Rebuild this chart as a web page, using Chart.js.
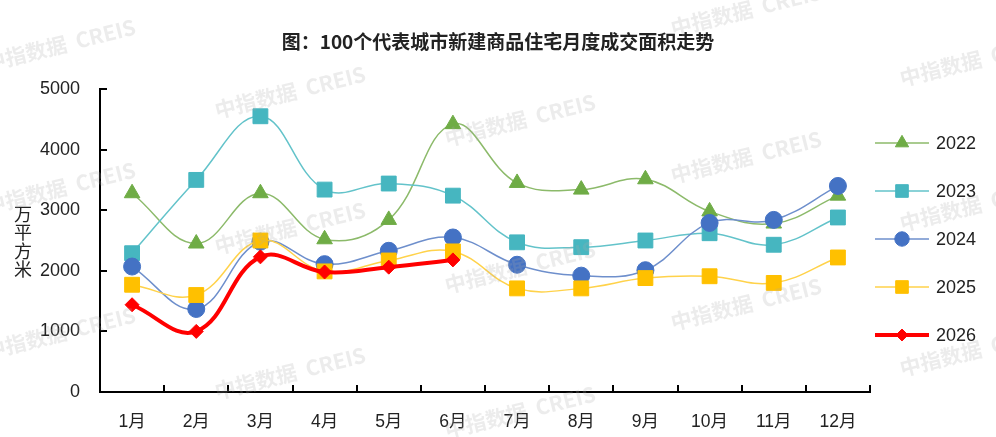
<!doctype html>
<html><head><meta charset="utf-8">
<title>100个代表城市新建商品住宅月度成交面积走势</title>
<script src="https://cdn.jsdelivr.net/npm/chart.js@4/dist/chart.umd.min.js"></script>
<style>
  html, body { margin: 0; padding: 0; background: #fff; }
  #wrap { width: 996px; height: 437px; position: relative; }
</style>
</head><body>
<div id="wrap"><canvas id="c"></canvas></div>
<script>
// data (万平方米)
const months = ['1月','2月','3月','4月','5月','6月','7月','8月','9月','10月','11月','12月'];
const yTicks = [0, 1000, 2000, 3000, 4000, 5000];
const v2022 = [3280, 2450, 3280, 2520, 2840, 4420, 3450, 3340, 3510, 2980, 2780, 3240];
const v2023 = [2290, 3500, 4550, 3340, 3440, 3240, 2470, 2390, 2500, 2620, 2430, 2880];
const v2024 = [2070, 1370, 2480, 2110, 2330, 2550, 2100, 1920, 2010, 2790, 2840, 3400];
const v2025 = [1770, 1600, 2500, 1990, 2170, 2320, 1710, 1710, 1880, 1910, 1800, 2220];
const v2026 = [1440, 1000, 2230, 1980, 2060, 2180];

const TITLE = '图：100个代表城市新建商品住宅月度成交面积走势';
const FONT = "'Liberation Sans', Arial, 'Noto Sans CJK SC', sans-serif";
const CJK = "'Noto Sans CJK SC', 'Liberation Sans', sans-serif";

function series(label, data, line, fill, style, r, width, order) {
  return {
    label, data, order,
    borderColor: line, borderWidth: width,
    pointStyle: style, pointRadius: r, pointHoverRadius: r,
    pointBackgroundColor: fill, pointBorderColor: fill, pointBorderWidth: 1,
    tension: 0.4, fill: false
  };
}

const datasets = [
  series('2022', v2022, '#8cba6a', '#6fac46', 'triangle', 9, 1.5, 4),
  series('2023', v2023, '#63c3ca', '#46b6c0', 'rect', 10.5, 1.5, 3),
  series('2024', v2024, '#6e8fcc', '#4472c4', 'circle', 8.5, 1.5, 2),
  series('2025', v2025, '#ffd24a', '#ffc000', 'rect', 10.5, 1.5, 1),
  series('2026', v2026, '#ff0000', '#ff0000', 'rectRot', 7, 4, 0)
];

// title centred on the whole canvas
const topTitle = {
  id: 'topTitle',
  afterDraw(chart) {
    const ctx = chart.ctx;
    ctx.save();
    ctx.fillStyle = '#222';
    ctx.font = 'bold 19px ' + CJK;
    ctx.textAlign = 'center';
    ctx.textBaseline = 'middle';
    ctx.fillText(TITLE, chart.width / 2, 42);
    ctx.restore();
  }
};

// inward tick marks on both axes
const innerTicks = {
  id: 'innerTicks',
  afterDraw(chart) {
    const { ctx, chartArea: a, scales: { x, y } } = chart;
    ctx.save();
    ctx.strokeStyle = '#000';
    ctx.lineWidth = 2;
    ctx.beginPath();
    yTicks.forEach(t => {
      const py = Math.round(y.getPixelForValue(t));
      ctx.moveTo(a.left, py); ctx.lineTo(a.left + 7, py);
    });
    const step = x.getPixelForValue(1) - x.getPixelForValue(0);
    for (let i = 0; i < months.length; i++) {
      const px = Math.round(x.getPixelForValue(i) + step / 2);
      ctx.moveTo(px, a.bottom); ctx.lineTo(px, a.bottom - 7);
    }
    ctx.stroke();
    ctx.restore();
  }
};

// vertical stacked y-axis unit
const yUnit = {
  id: 'yUnit',
  afterDraw(chart) {
    const ctx = chart.ctx;
    ctx.save();
    ctx.fillStyle = '#222';
    ctx.font = '18px ' + CJK;
    ctx.textAlign = 'center';
    ctx.textBaseline = 'middle';
    ['万','平','方','米'].forEach((ch, i) => ctx.fillText(ch, 23, 214 + i * 18.5));
    ctx.restore();
  }
};

// legend on the right: line sample + marker + label
const sideLegend = {
  id: 'sideLegend',
  afterDraw(chart) {
    const ctx = chart.ctx;
    const rows = [143, 191, 239, 287, 335];
    ctx.save();
    datasets.forEach((ds, i) => {
      const yy = rows[i];
      ctx.strokeStyle = ds.borderColor;
      ctx.lineWidth = ds.borderWidth;
      ctx.beginPath(); ctx.moveTo(875, yy); ctx.lineTo(929, yy); ctx.stroke();
      const opts = { pointStyle: ds.pointStyle, radius: ds.pointRadius * 0.85, rotation: 0, borderWidth: 1 };
      ctx.fillStyle = ds.pointBackgroundColor;
      ctx.strokeStyle = ds.pointBorderColor;
      ctx.lineWidth = 1;
      Chart.helpers.drawPoint(ctx, opts, 902, yy);
      ctx.fillStyle = '#222';
      ctx.font = '18px ' + FONT;
      ctx.textAlign = 'left';
      ctx.textBaseline = 'middle';
      ctx.fillText(ds.label, 936, yy + 1);
    });
    ctx.restore();
  }
};

// faint source watermark
const watermark = {
  id: 'watermark',
  afterDraw(chart) {
    const ctx = chart.ctx;
    const spots = [
      [60, 45], [60, 188], [60, 333],
      [290, 92], [290, 228], [290, 373],
      [520, 120], [520, 267], [520, 412],
      [746, 10], [746, 157], [746, 304],
      [975, 60], [975, 205], [975, 350]
    ];
    ctx.save();
    ctx.fillStyle = 'rgba(170,170,170,0.22)';
    ctx.font = 'bold 21px ' + CJK;
    ctx.textAlign = 'center';
    ctx.textBaseline = 'middle';
    spots.forEach(([sx, sy]) => {
      ctx.save();
      ctx.translate(sx, sy);
      ctx.rotate(-14 * Math.PI / 180);
      ctx.fillText('中指数据  CREIS', 0, 0);
      ctx.restore();
    });
    ctx.restore();
  }
};

new Chart(document.getElementById('c'), {
  type: 'line',
  data: { labels: months, datasets },
  plugins: [innerTicks, yUnit, sideLegend, topTitle, watermark],
  options: {
    responsive: true,
    maintainAspectRatio: false,
    animation: false,
    layout: { padding: { left: 0, right: 126, top: 89, bottom: 0 } },
    plugins: {
      legend: { display: false },
      tooltip: { enabled: false },
      title: { display: false }
    },
    scales: {
      x: {
        offset: true,
        grid: { display: false },
        border: { color: '#000', width: 2 },
        ticks: { color: '#222', font: { family: FONT, size: 17.5 }, padding: 12, maxRotation: 0 },
        afterFit(s) { s.height = 45; }
      },
      y: {
        min: 0, max: 5000,
        grid: { display: false },
        border: { color: '#000', width: 2 },
        ticks: {
          stepSize: 1000, color: '#222', font: { family: FONT, size: 18 }, padding: 12,
          callback: v => String(v)
        },
        afterFit(s) { s.width = 100; }
      }
    }
  }
});
</script>
</body></html>
